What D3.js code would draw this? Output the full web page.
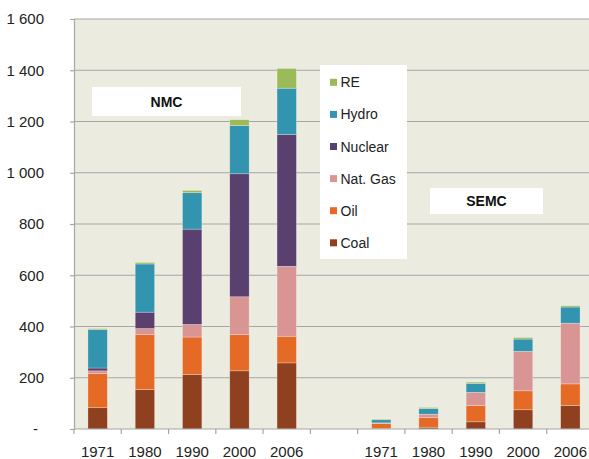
<!DOCTYPE html>
<html><head><meta charset="utf-8">
<script src="https://cdn.jsdelivr.net/npm/d3@7"></script>
<style>body{margin:0;background:#fff}svg{display:block;font-family:"Liberation Sans",Arial,sans-serif}</style>
</head><body><svg id="c" width="589" height="459"></svg>
<script>
const categories = ["NMC 1971","NMC 1980","NMC 1990","NMC 2000","NMC 2006","gap","SEMC 1971","SEMC 1980","SEMC 1990","SEMC 2000","SEMC 2006"];
const tickLabels = ["1971","1980","1990","2000","2006","","1971","1980","1990","2000","2006"];
const seriesNames = ["Coal","Oil","Nat. Gas","Nuclear","Hydro","RE"];
const coal    = [83, 154, 213, 227, 258, 0, 2, 7, 28, 75, 92];
const oil     = [134, 214, 146, 141, 104, 0, 20, 37, 64, 74, 84];
const natGas  = [10, 24, 49, 148, 273, 0, 2, 14, 51, 154, 237];
const nuclear = [11, 64, 372, 480, 514, 0, 0, 0, 0, 0, 0];
const hydro   = [150, 188, 142, 188, 181, 0, 12, 22, 35, 48, 63];
const re      = [4, 6, 9, 23, 77, 0, 3, 4, 5, 6, 5];
const yTicks  = [0,200,400,600,800,1000,1200,1400,1600];
const colors  = ["#8E401F","#E46A26","#D99593","#59406F","#3294AE","#9BBB59"];
const groupLabels = ["NMC","SEMC"];

const svg = d3.select("#c");
const L = 74, R = 594, T = 19, B = 429;
const x = d3.scaleBand().domain(categories).range([L, R]).padding(0);
const y = d3.scaleLinear().domain([0,1600]).range([B, T]);

svg.append("rect").attr("x",L).attr("y",T).attr("width",R-L).attr("height",B-T).attr("fill","#ECEBE0");

// gridlines
svg.append("g").selectAll("line").data(yTicks.slice(1)).join("line")
  .attr("x1",L).attr("x2",R).attr("y1",d=>y(d)).attr("y2",d=>y(d))
  .attr("stroke","#A6A6A6").attr("stroke-width",1.2);

// stacked bars
const table = categories.map((c,i)=>({cat:c, Coal:coal[i], Oil:oil[i], "Nat. Gas":natGas[i], Nuclear:nuclear[i], Hydro:hydro[i], RE:re[i]}));
const stack = d3.stack().keys(seriesNames)(table.filter(d=>d.cat!=="gap"));
const bw = x.bandwidth()*0.41;
svg.append("g").selectAll("g").data(stack).join("g").attr("fill",(d,i)=>colors[i])
  .selectAll("rect").data(d=>d).join("rect")
  .attr("x",d=>x(d.data.cat)+(x.bandwidth()-bw)/2)
  .attr("width",bw)
  .attr("y",d=>y(d[1]))
  .attr("height",d=>Math.max(0,y(d[0])-y(d[1])))
  .attr("stroke","rgba(255,255,255,0.45)").attr("stroke-width",0.6);

// y axis
const fmt = v => v===0 ? "-" : d3.format(",")(v).replace(/,/g," ");
const ya = svg.append("g").attr("transform",`translate(${L},0)`)
  .call(d3.axisLeft(y).tickValues(yTicks).tickSize(4).tickPadding(26).tickFormat(fmt));
ya.select(".domain").attr("stroke","#A6A6A6").attr("stroke-width",1.2);
ya.selectAll(".tick line").attr("stroke","#A6A6A6").attr("stroke-width",1.2);
ya.selectAll(".tick text").attr("font-size",15).attr("fill","#222").attr("font-family","Liberation Sans, Arial")
  .attr("dx",d=>d===0?-6:0);

// x axis
const xa = svg.append("g").attr("transform",`translate(0,${B})`);
xa.append("line").attr("x1",L).attr("x2",R).attr("stroke","#A6A6A6").attr("stroke-width",1.2);
xa.selectAll("line.t").data(categories).join("line").attr("class","t")
  .attr("x1",d=>x(d)).attr("x2",d=>x(d)).attr("y1",0).attr("y2",5)
  .attr("stroke","#A6A6A6").attr("stroke-width",1.2);
xa.selectAll("text").data(categories).join("text")
  .attr("x",d=>x(d)+x.bandwidth()/2).attr("y",28)
  .attr("text-anchor","middle").attr("font-size",15).attr("fill","#222")
  .text((d,i)=>tickLabels[i]);

// group labels
const boxes = [{x:92,y:87,w:149,h:29},{x:430,y:188,w:113,h:26}];
boxes.forEach((b,i)=>{
  svg.append("rect").attr("x",b.x).attr("y",b.y).attr("width",b.w).attr("height",b.h).attr("fill","#fff");
  svg.append("text").attr("x",b.x+b.w/2).attr("y",b.y+b.h/2+5).attr("text-anchor","middle")
    .attr("font-size",14).attr("font-weight","bold").attr("fill","#111").text(groupLabels[i]);
});

// legend
svg.append("rect").attr("x",320).attr("y",65).attr("width",87).attr("height",194).attr("fill","#fff");
const legendOrder = seriesNames.map((s,i)=>({s,c:colors[i]})).reverse();
const lg = svg.append("g").selectAll("g").data(legendOrder).join("g")
  .attr("transform",(d,i)=>`translate(330,${82.3+i*32.1})`);
lg.append("rect").attr("x",0).attr("y",-3.5).attr("width",7).attr("height",7).attr("fill",d=>d.c);
lg.append("text").attr("x",10.5).attr("y",5).attr("font-size",14).attr("fill","#222").text(d=>d.s);
</script></body></html>
